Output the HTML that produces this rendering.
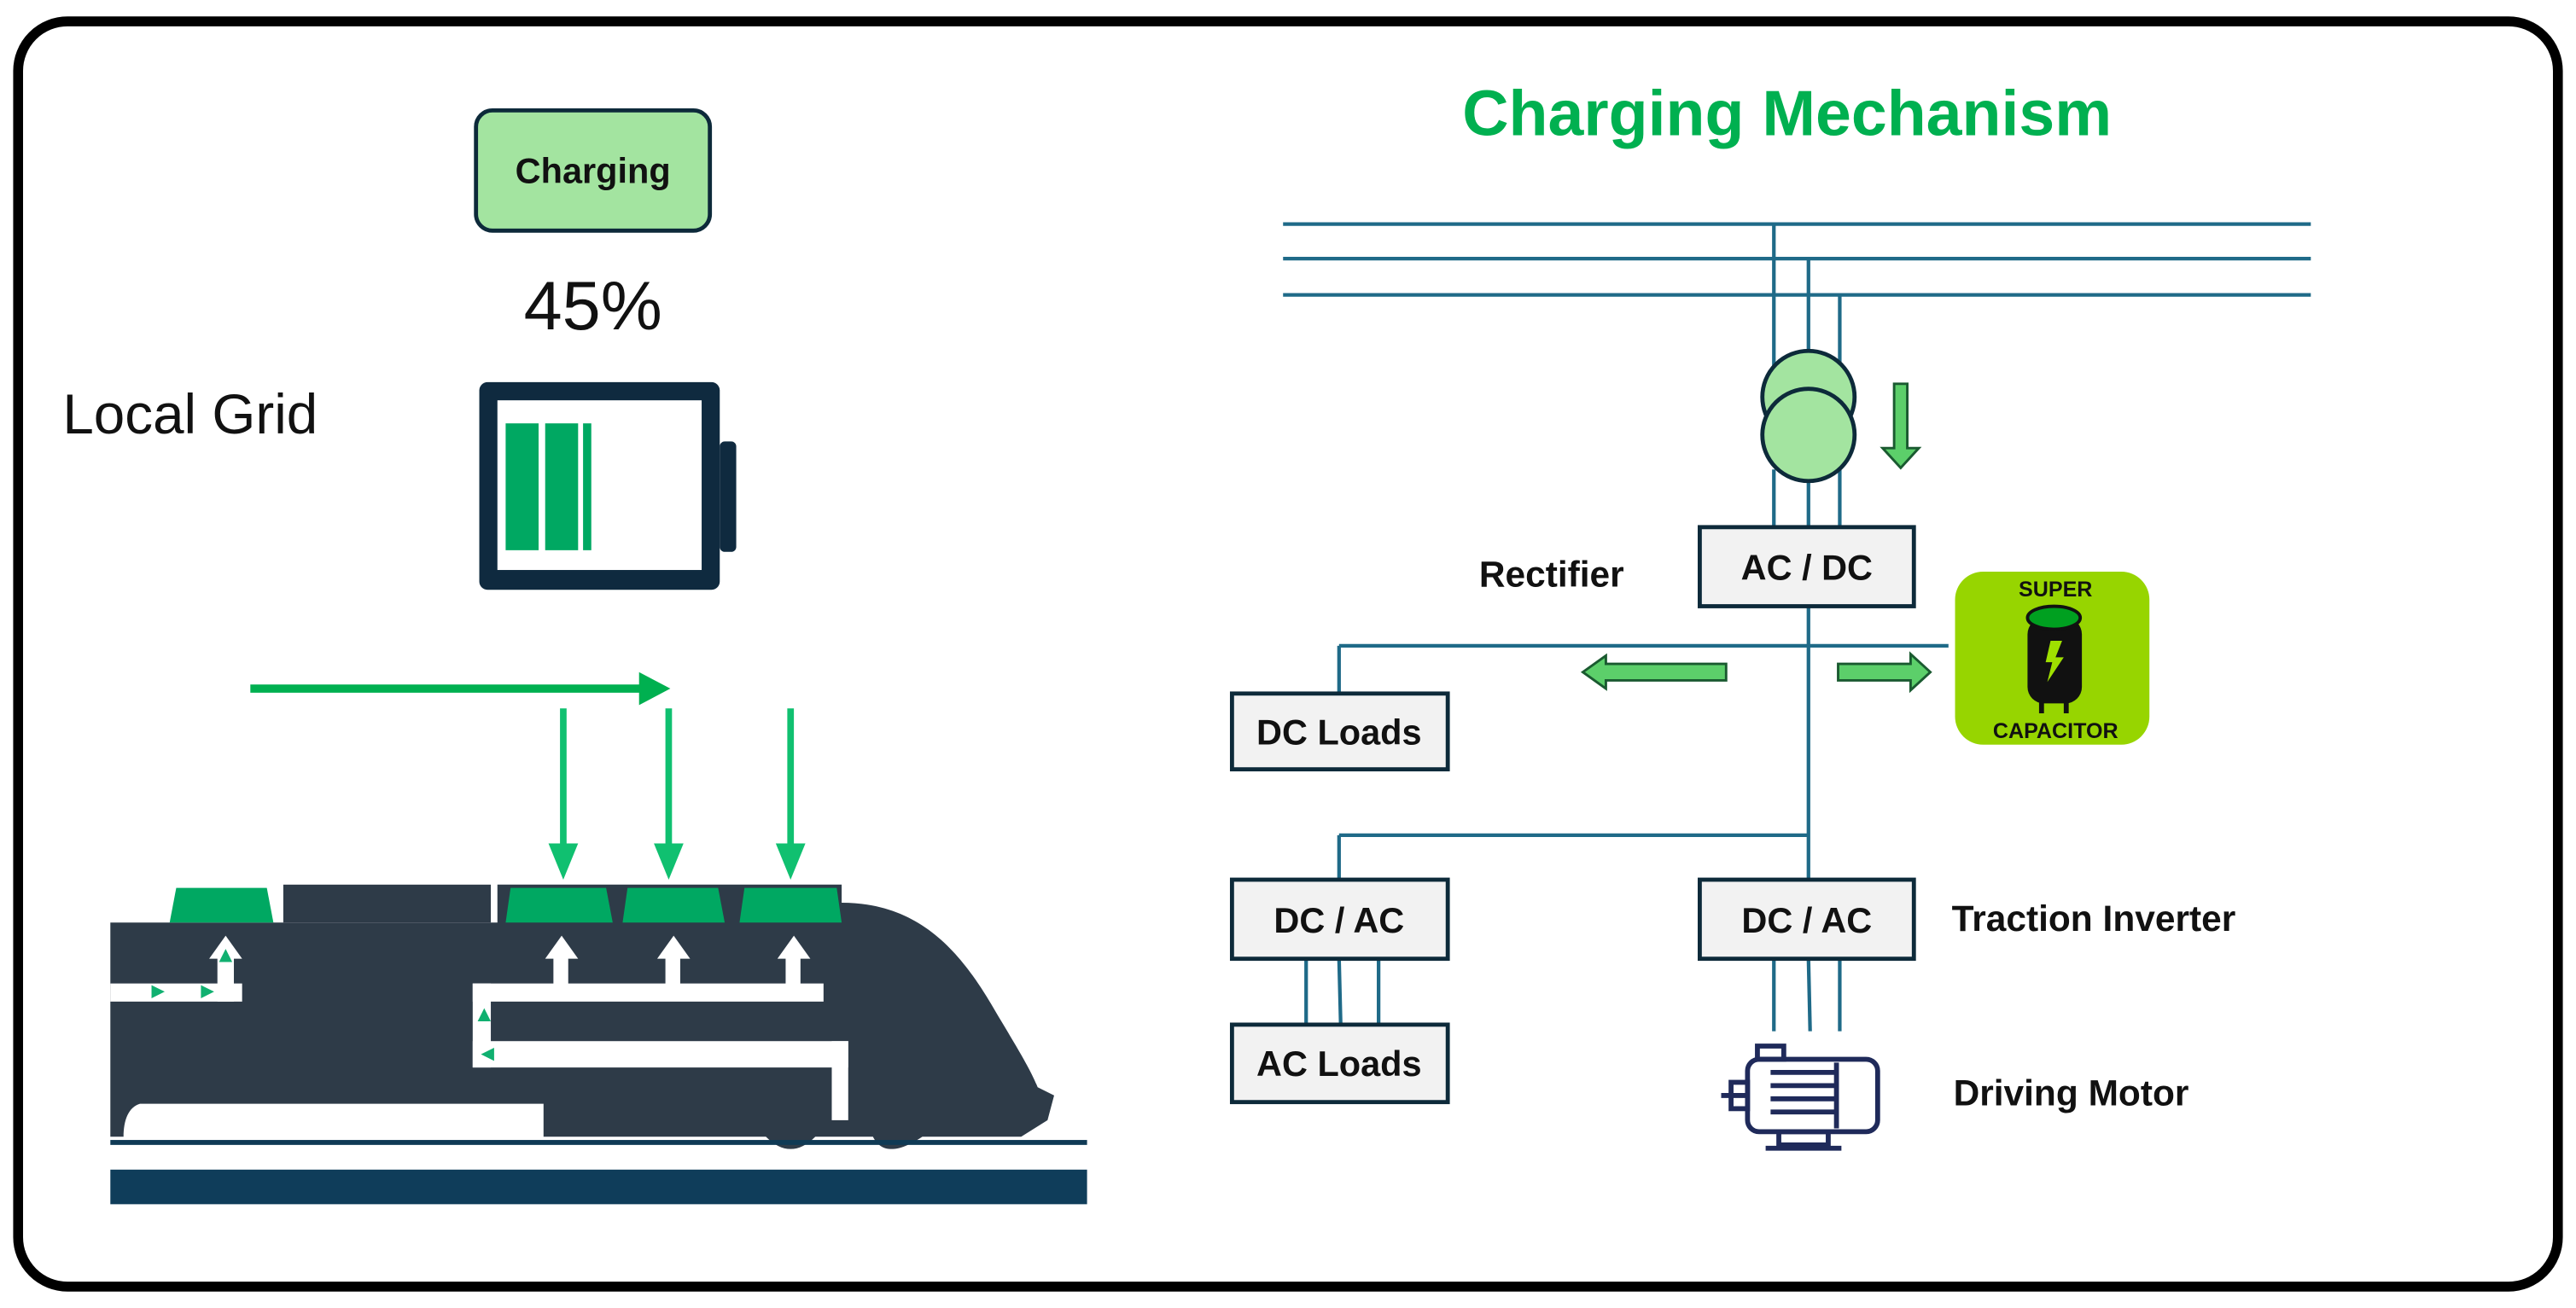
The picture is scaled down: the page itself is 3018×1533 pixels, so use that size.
<!DOCTYPE html>
<html><head><meta charset="utf-8"><style>
html,body{margin:0;padding:0;background:#fff;}
svg{display:block;}
text{font-family:"Liberation Sans","DejaVu Sans",sans-serif;}
</style></head><body>
<svg width="3018" height="1533" viewBox="0 0 1564 794" preserveAspectRatio="none" xmlns="http://www.w3.org/2000/svg">
<rect x="11" y="13" width="1542" height="768" rx="30" fill="#fff" stroke="#000" stroke-width="6"/>

<rect x="289" y="67" width="142" height="73" rx="10" fill="#a3e4a0" stroke="#0d2a3a" stroke-width="2.5"/>
<text x="360" y="111" font-size="21.5" font-weight="bold" text-anchor="middle" fill="#111">Charging</text>
<text x="360" y="200" font-size="42" text-anchor="middle" fill="#111">45%</text>
<text x="38" y="263" font-size="34" fill="#111">Local Grid</text>

<rect x="291" y="232" width="146" height="126" rx="5" fill="#0f2a3f"/>
<rect x="302" y="243" width="124" height="103" fill="#fff"/>
<rect x="437" y="268" width="10" height="67" rx="3" fill="#0f2a3f"/>
<rect x="307" y="257" width="20" height="77" fill="#00a862"/>
<rect x="331" y="257" width="20" height="77" fill="#00a862"/>
<rect x="354" y="257" width="5" height="77" fill="#00a862"/>

<line x1="152" y1="418" x2="392" y2="418" stroke="#00b050" stroke-width="5"/>
<polygon points="388,408 407,418 388,428" fill="#00b050"/>
<g stroke="#10c070" stroke-width="4">
<line x1="342" y1="430" x2="342" y2="515"/>
<line x1="406" y1="430" x2="406" y2="515"/>
<line x1="480" y1="430" x2="480" y2="515"/>
</g>
<g fill="#10c070">
<polygon points="333,512 351,512 342,534"/>
<polygon points="397,512 415,512 406,534"/>
<polygon points="471,512 489,512 480,534"/>
</g>

<path d="M67,560 L302,560 L302,537 L511,537 L511,548 C560,548 585,580 605,615 C620,640 626,650 630,660 L640,665 L636,680 L620,690 L560,690 C545,700 535,700 530,690 L495,690 C485,700 475,700 465,690 L330,690 L330,670 L85,670 C78,672 75,680 75,690 L67,690 Z" fill="#2e3b48"/>
<rect x="172" y="537" width="126" height="23" fill="#2e3b48"/>
<g fill="#00a862">
<polygon points="103,560 107,539 162,539 166,560"/>
<polygon points="307,560 310,539 368,539 372,560"/>
<polygon points="378,560 381,539 436,539 440,560"/>
<polygon points="449,560 452,539 508,539 511,560"/>
</g>
<g fill="#fff">
<rect x="67" y="597" width="80" height="11"/>
<rect x="132" y="580" width="10" height="28"/>
<polygon points="127,582 137,568 147,582"/>
<rect x="287" y="597" width="213" height="11"/>
<rect x="287" y="597" width="11" height="51"/>
<rect x="287" y="632" width="228" height="16"/>
<rect x="505" y="632" width="10" height="48"/>
<rect x="336" y="580" width="9" height="20"/><polygon points="331,582 341,568 351,582"/>
<rect x="404" y="580" width="9" height="20"/><polygon points="399,582 409,568 419,582"/>
<rect x="477" y="580" width="9" height="20"/><polygon points="472,582 482,568 492,582"/>
</g>
<g fill="#10b070">
<polygon points="92,598 100,602 92,606"/><polygon points="122,598 130,602 122,606"/>
<polygon points="133,584 137,576 141,584"/>
<polygon points="290,620 294,612 298,620"/><polygon points="300,636 292,640 300,644"/>
</g>
<rect x="67" y="692" width="593" height="3" fill="#0f3a55"/>
<rect x="67" y="710" width="593" height="21" fill="#0f3d5a"/>

<text x="1085" y="82" font-size="39" font-weight="bold" text-anchor="middle" fill="#00b050">Charging Mechanism</text>
<g stroke="#1f6a88" stroke-width="2.2" fill="none">
<line x1="779" y1="136" x2="1403" y2="136"/>
<line x1="779" y1="157" x2="1403" y2="157"/>
<line x1="779" y1="179" x2="1403" y2="179"/>
<line x1="1077" y1="136" x2="1077" y2="230"/>
<line x1="1098" y1="157" x2="1098" y2="222"/>
<line x1="1117" y1="179" x2="1117" y2="230"/>
<line x1="1077" y1="285" x2="1077" y2="320"/>
<line x1="1098" y1="292" x2="1098" y2="320"/>
<line x1="1117" y1="285" x2="1117" y2="320"/>
<line x1="1098" y1="368" x2="1098" y2="534"/>
<line x1="813" y1="392" x2="1183" y2="392"/>
<line x1="813" y1="392" x2="813" y2="421"/>
<line x1="813" y1="507" x2="1098" y2="507"/>
<line x1="813" y1="507" x2="813" y2="534"/>
<line x1="793" y1="582" x2="793" y2="622"/>
<line x1="813" y1="582" x2="814" y2="622"/>
<line x1="837" y1="582" x2="837" y2="622"/>
<line x1="1077" y1="582" x2="1077" y2="626"/>
<line x1="1098" y1="582" x2="1099" y2="626"/>
<line x1="1117" y1="582" x2="1117" y2="626"/>
</g>
<circle cx="1098" cy="241" r="28" fill="#a3e4a0" stroke="#0d2a3a" stroke-width="2.5"/>
<circle cx="1098" cy="264" r="28" fill="#a3e4a0" stroke="#0d2a3a" stroke-width="2.5"/>
<polygon points="1150,233 1158,233 1158,272 1165,272 1154,284 1143,272 1150,272" fill="#5ccf6a" stroke="#1a5a30" stroke-width="1.5"/>
<polygon points="1048,403 1048,413 975,413 975,418 961,408 975,398 975,403" fill="#5ccf6a" stroke="#1a5a30" stroke-width="1.5"/>
<polygon points="1116,403 1116,413 1160,413 1160,419 1172,408 1160,397 1160,403" fill="#5ccf6a" stroke="#1a5a30" stroke-width="1.5"/>

<g fill="#f2f2f2" stroke="#0d2a3a" stroke-width="2.5">
<rect x="1032" y="320" width="130" height="48"/>
<rect x="748" y="421" width="131" height="46"/>
<rect x="748" y="534" width="131" height="48"/>
<rect x="1032" y="534" width="130" height="48"/>
<rect x="748" y="622" width="131" height="47"/>
</g>
<g font-size="21.5" font-weight="bold" fill="#111" text-anchor="middle">
<text x="1097" y="352">AC / DC</text>
<text x="813" y="452">DC Loads</text>
<text x="813" y="566">DC / AC</text>
<text x="1097" y="566">DC / AC</text>
<text x="813" y="653">AC Loads</text>
</g>
<g font-size="22" font-weight="bold" fill="#111">
<text x="898" y="356">Rectifier</text>
<text x="1185" y="565">Traction Inverter</text>
<text x="1186" y="671">Driving Motor</text>
</g>

<rect x="1187" y="347" width="118" height="105" rx="17" fill="#97d500"/>
<text x="1248" y="362" font-size="13" font-weight="bold" text-anchor="middle" fill="#111">SUPER</text>
<text x="1248" y="448" font-size="13" font-weight="bold" text-anchor="middle" fill="#111">CAPACITOR</text>
<rect x="1231" y="375" width="33" height="52" rx="10" fill="#111"/>
<ellipse cx="1247" cy="375" rx="16" ry="7" fill="#00a020" stroke="#111" stroke-width="2"/>
<rect x="1238" y="425" width="3" height="8" fill="#111"/><rect x="1253" y="425" width="3" height="8" fill="#111"/>
<polygon points="1245,389 1252,389 1248,399 1253,399 1243,414 1246,402 1242,402" fill="#9fe000"/>

<g fill="none" stroke="#1f2a5a" stroke-width="3">
<rect x="1061" y="643" width="79" height="44" rx="7"/>
<rect x="1067" y="635" width="16" height="8"/>
<line x1="1045" y1="665" x2="1061" y2="665"/>
<rect x="1051" y="657" width="10" height="16"/>
<line x1="1075" y1="651" x2="1115" y2="651"/><line x1="1075" y1="659" x2="1115" y2="659"/>
<line x1="1075" y1="667" x2="1115" y2="667"/><line x1="1075" y1="675" x2="1115" y2="675"/>
<line x1="1115" y1="645" x2="1115" y2="685"/>
<rect x="1080" y="687" width="30" height="8"/>
<line x1="1072" y1="697" x2="1118" y2="697"/>
</g>
</svg>
</body></html>
